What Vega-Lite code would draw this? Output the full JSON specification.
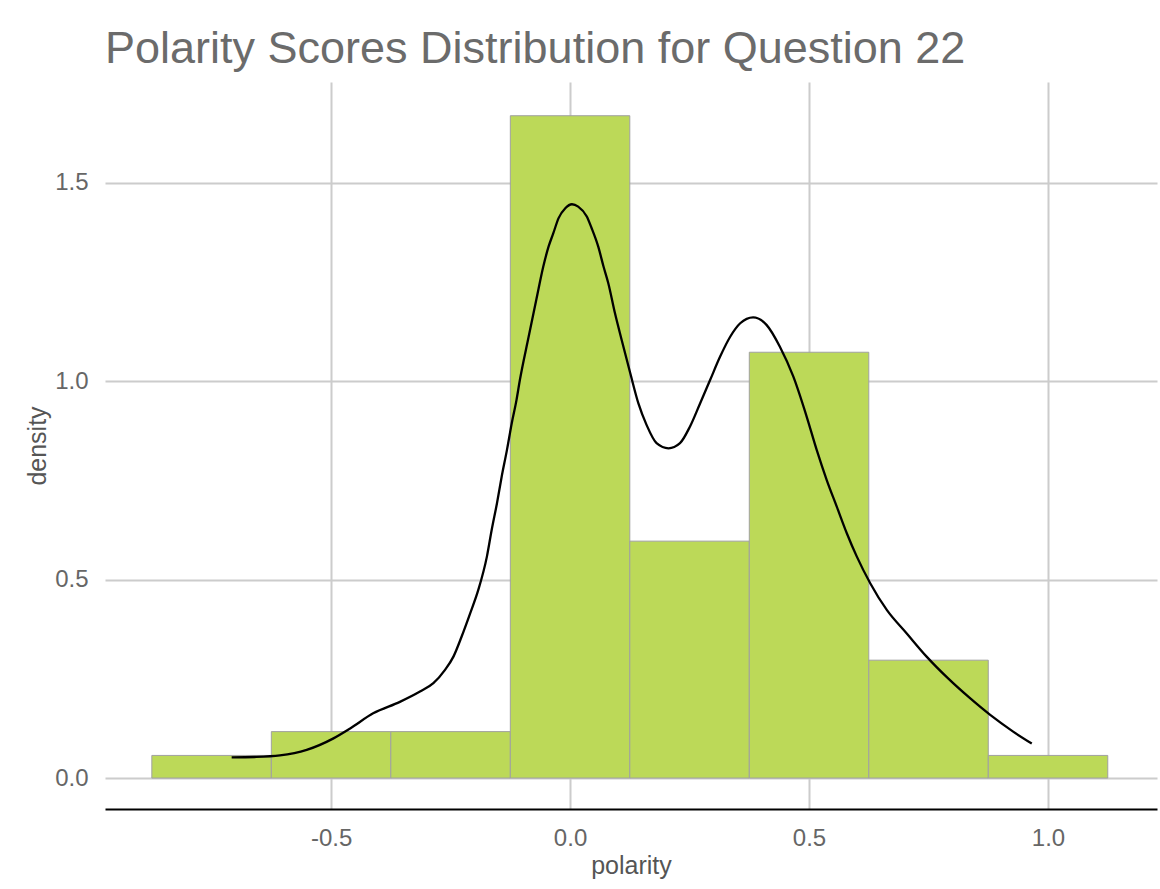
{
  "$schema": "https://vega.github.io/schema/vega-lite/v6.json",
  "width": 1052,
  "height": 727,
  "autosize": {"type": "none"},
  "padding": {"left": 105, "top": 82, "right": 3, "bottom": 80},
  "background": "white",
  "title": {
    "text": "Polarity Scores Distribution for Question 22",
    "anchor": "start",
    "frame": "group",
    "fontSize": 45,
    "font": "Liberation Sans",
    "fontWeight": "normal",
    "color": "#6b6b6b",
    "offset": 10
  },
  "config": {
    "view": {"stroke": null},
    "font": "Liberation Sans"
  },
  "datasets": {
    "bins": [
      {"bin_start": -0.875, "bin_end": -0.625, "density": 0.057},
      {"bin_start": -0.625, "bin_end": -0.375, "density": 0.117},
      {"bin_start": -0.375, "bin_end": -0.125, "density": 0.117},
      {"bin_start": -0.125, "bin_end": 0.125, "density": 1.669},
      {"bin_start": 0.125, "bin_end": 0.375, "density": 0.597},
      {"bin_start": 0.375, "bin_end": 0.625, "density": 1.073},
      {"bin_start": 0.625, "bin_end": 0.875, "density": 0.297},
      {"bin_start": 0.875, "bin_end": 1.125, "density": 0.057}
    ],
    "kde": [
      {"polarity": -0.708, "density": 0.052},
      {"polarity": -0.66, "density": 0.053},
      {"polarity": -0.607, "density": 0.057},
      {"polarity": -0.551, "density": 0.071},
      {"polarity": -0.495, "density": 0.100},
      {"polarity": -0.46, "density": 0.125},
      {"polarity": -0.412, "density": 0.163},
      {"polarity": -0.356, "density": 0.192},
      {"polarity": -0.314, "density": 0.218},
      {"polarity": -0.286, "density": 0.239},
      {"polarity": -0.262, "density": 0.272},
      {"polarity": -0.244, "density": 0.306},
      {"polarity": -0.227, "density": 0.356},
      {"polarity": -0.209, "density": 0.415},
      {"polarity": -0.192, "density": 0.474},
      {"polarity": -0.174, "density": 0.558},
      {"polarity": -0.164, "density": 0.625},
      {"polarity": -0.153, "density": 0.692},
      {"polarity": -0.143, "density": 0.760},
      {"polarity": -0.132, "density": 0.827},
      {"polarity": -0.122, "density": 0.894},
      {"polarity": -0.112, "density": 0.953},
      {"polarity": -0.105, "density": 1.003},
      {"polarity": -0.087, "density": 1.110},
      {"polarity": -0.070, "density": 1.209},
      {"polarity": -0.056, "density": 1.289},
      {"polarity": -0.045, "density": 1.339},
      {"polarity": -0.035, "density": 1.373},
      {"polarity": -0.024, "density": 1.411},
      {"polarity": -0.010, "density": 1.436},
      {"polarity": 0.004, "density": 1.446},
      {"polarity": 0.017, "density": 1.440},
      {"polarity": 0.035, "density": 1.415},
      {"polarity": 0.045, "density": 1.386},
      {"polarity": 0.059, "density": 1.339},
      {"polarity": 0.070, "density": 1.289},
      {"polarity": 0.080, "density": 1.247},
      {"polarity": 0.094, "density": 1.171},
      {"polarity": 0.108, "density": 1.104},
      {"polarity": 0.126, "density": 1.020},
      {"polarity": 0.143, "density": 0.944},
      {"polarity": 0.160, "density": 0.890},
      {"polarity": 0.181, "density": 0.844},
      {"polarity": 0.206, "density": 0.831},
      {"polarity": 0.230, "density": 0.844},
      {"polarity": 0.251, "density": 0.886},
      {"polarity": 0.272, "density": 0.944},
      {"polarity": 0.293, "density": 1.003},
      {"polarity": 0.314, "density": 1.062},
      {"polarity": 0.335, "density": 1.112},
      {"polarity": 0.356, "density": 1.146},
      {"polarity": 0.383, "density": 1.161},
      {"polarity": 0.411, "density": 1.142},
      {"polarity": 0.439, "density": 1.087},
      {"polarity": 0.467, "density": 1.012},
      {"polarity": 0.495, "density": 0.911},
      {"polarity": 0.516, "density": 0.827},
      {"polarity": 0.537, "density": 0.751},
      {"polarity": 0.558, "density": 0.684},
      {"polarity": 0.579, "density": 0.617},
      {"polarity": 0.600, "density": 0.558},
      {"polarity": 0.628, "density": 0.491},
      {"polarity": 0.663, "density": 0.423},
      {"polarity": 0.704, "density": 0.365},
      {"polarity": 0.746, "density": 0.306},
      {"polarity": 0.791, "density": 0.251},
      {"polarity": 0.835, "density": 0.203},
      {"polarity": 0.879, "density": 0.159},
      {"polarity": 0.927, "density": 0.117},
      {"polarity": 0.966, "density": 0.087}
    ]
  },
  "layer": [
    {
      "data": {"name": "bins"},
      "mark": {"type": "rect", "fill": "#bcd958", "stroke": "#a0a0a0", "strokeWidth": 1},
      "encoding": {
        "x": {
          "field": "bin_start",
          "type": "quantitative",
          "scale": {"domain": [-0.973, 1.228], "nice": false, "zero": false},
          "axis": {
            "title": "polarity",
            "values": [-0.5, 0, 0.5, 1],
            "format": ".1f",
            "labelExpr": "replace(datum.label, '−', '-')",
            "grid": true,
            "gridColor": "#cccccc",
            "gridWidth": 2,
            "ticks": false,
            "domain": true,
            "domainColor": "#000000",
            "domainWidth": 2,
            "labelFontSize": 24,
            "labelColor": "#666666",
            "labelPadding": 17,
            "titleFontSize": 25,
            "titleFontWeight": "normal",
            "titleColor": "#555555",
            "titlePadding": 3
          }
        },
        "x2": {"field": "bin_end"},
        "y": {
          "field": "density",
          "type": "quantitative",
          "scale": {"domain": [-0.078, 1.754], "nice": false, "zero": false},
          "axis": {
            "title": "density",
            "values": [0, 0.5, 1, 1.5],
            "format": ".1f",
            "grid": true,
            "gridColor": "#cccccc",
            "gridWidth": 2,
            "ticks": false,
            "domain": false,
            "labelFontSize": 24,
            "labelColor": "#666666",
            "labelPadding": 17,
            "titleFontSize": 25,
            "titleFontWeight": "normal",
            "titleColor": "#555555",
            "titlePadding": 4
          }
        },
        "y2": {"datum": 0}
      }
    },
    {
      "data": {"name": "kde"},
      "mark": {"type": "line", "color": "#000000", "strokeWidth": 2.3, "interpolate": "monotone"},
      "encoding": {
        "x": {"field": "polarity", "type": "quantitative"},
        "y": {"field": "density", "type": "quantitative"}
      }
    }
  ]
}
